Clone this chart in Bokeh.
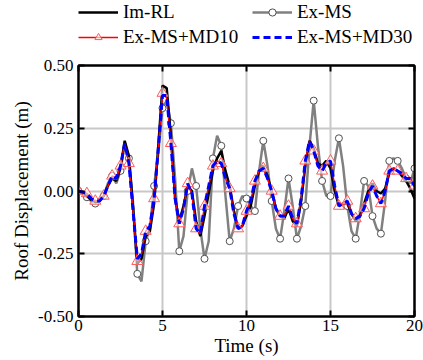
from bokeh.plotting import figure
from bokeh.layouts import column
from bokeh.models import (ColumnDataSource, FixedTicker, LinearAxis, Legend, LegendItem,
                          NumeralTickFormatter, Range1d)
from bokeh.embed import file_html
from bokeh.resources import INLINE

# ---- data (time step 0.25 s) ----
TIME = [i * 0.25 for i in range(81)]

IM_RL = [0.00, -0.01, -0.02, -0.035,
         -0.045, -0.04, -0.02, 0.02,
         0.05, 0.04, 0.09, 0.20,
         0.14, -0.07, -0.29, -0.27,
         -0.18, -0.16, -0.05, 0.18,
         0.42, 0.41, 0.22, -0.03,
         -0.12, -0.06, 0.02, 0.00,
         -0.12, -0.18, -0.10, -0.01,
         0.08, 0.13, 0.16, 0.08,
         0.02, -0.08, -0.15, -0.14,
         -0.10, -0.06, 0.02, 0.08,
         0.10, 0.06, 0.00, -0.07,
         -0.10, -0.11, -0.07, -0.12,
         -0.14, -0.04, 0.10, 0.20,
         0.17, 0.11, 0.10, 0.12,
         0.09, 0.00, -0.06, -0.05,
         -0.05, -0.09, -0.12, -0.10,
         -0.05, 0.00, 0.03, 0.00,
         -0.01, 0.01, 0.07, 0.09,
         0.08, 0.06, 0.04, 0.01,
         -0.03]

EX_MS = [0.00, -0.01, -0.025, -0.04,
         -0.05, -0.04, -0.02, 0.03,
         0.06, 0.03, 0.08, 0.19,
         0.13, -0.05, -0.33, -0.36,
         -0.20, -0.15, 0.02, 0.15,
         0.33, 0.36, 0.27, 0.05,
         -0.24, -0.18, 0.00, 0.09,
         0.02, -0.15, -0.27, -0.20,
         0.13, 0.22, 0.18, -0.02,
         -0.20, -0.15, -0.06, -0.02,
         -0.03, -0.06, -0.08, 0.08,
         0.20, 0.10, -0.04, -0.15,
         -0.19, -0.08, 0.05, -0.06,
         -0.19, -0.14, -0.06, 0.18,
         0.36, 0.18, 0.04, -0.02,
         -0.02, 0.12, 0.21, 0.10,
         -0.06, -0.16, -0.19, -0.09,
         0.04, 0.02, -0.10, -0.15,
         -0.17, -0.04, 0.12, 0.13,
         0.12, 0.09, 0.05, 0.03,
         0.09]

EX_MS_MD10 = [0.00, -0.005, -0.01, -0.03,
              -0.04, -0.04, -0.02, 0.02,
              0.06, 0.05, 0.10, 0.19,
              0.11, -0.08, -0.28, -0.25,
              -0.16, -0.14, -0.03, 0.17,
              0.39, 0.37, 0.19, -0.03,
              -0.13, -0.07, 0.03, -0.01,
              -0.15, -0.17, -0.06, 0.02,
              0.10, 0.12, 0.11, 0.05,
              0.01, -0.09, -0.15, -0.14,
              -0.08, -0.04, 0.04, 0.08,
              0.09, 0.05, 0.00, -0.07,
              -0.10, -0.10, -0.06, -0.11,
              -0.13, -0.03, 0.12, 0.20,
              0.16, 0.10, 0.08, 0.11,
              0.12, 0.02, -0.06, -0.05,
              -0.04, -0.09, -0.11, -0.10,
              -0.07, -0.01, 0.02, -0.02,
              -0.05, 0.00, 0.08, 0.09,
              0.08, 0.07, 0.05, 0.05,
              0.02]

EX_MS_MD30 = [0.00, -0.005, -0.01, -0.03,
              -0.04, -0.04, -0.02, 0.02,
              0.06, 0.05, 0.10, 0.19,
              0.11, -0.08, -0.27, -0.25,
              -0.16, -0.14, -0.03, 0.17,
              0.38, 0.38, 0.19, -0.03,
              -0.13, -0.07, 0.03, -0.01,
              -0.15, -0.17, -0.06, 0.02,
              0.10, 0.12, 0.11, 0.05,
              0.01, -0.09, -0.15, -0.14,
              -0.08, -0.04, 0.04, 0.08,
              0.09, 0.05, 0.00, -0.07,
              -0.10, -0.10, -0.06, -0.11,
              -0.13, -0.03, 0.12, 0.20,
              0.16, 0.10, 0.08, 0.11,
              0.12, 0.02, -0.06, -0.05,
              -0.04, -0.09, -0.11, -0.10,
              -0.07, -0.01, 0.02, -0.02,
              -0.05, 0.00, 0.08, 0.09,
              0.08, 0.07, 0.05, 0.05,
              0.02]

SERIES = ["Im-RL", "Ex-MS", "Ex-MS+MD10", "Ex-MS+MD30"]
X_TICKS = [0, 5, 10, 15, 20]
Y_TICKS = [-0.50, -0.25, 0.00, 0.25, 0.50]

FONT = "Liberation Serif"

# styles
GRAY_LINE = dict(line_color="#808080", line_width=2.5)
GRAY_MK = dict(marker="circle", size=7, fill_color="white", line_color="#505050", line_width=1)
BLACK_LINE = dict(line_color="black", line_width=2.5)
RED_LINE = dict(line_color="#FF0000", line_width=1.5)
RED_MK = dict(marker="triangle", size=11, fill_color="white", fill_alpha=0.6,
              line_color="#FF5A5A", line_width=1)
BLUE_LINE = dict(line_color="#0000FF", line_width=3, line_dash="7 4")

src = ColumnDataSource(dict(t=TIME, rl=IM_RL, ms=EX_MS, md10=EX_MS_MD10, md30=EX_MS_MD30))
mk = ColumnDataSource(dict(t=TIME[::2], ms=EX_MS[::2], md10=EX_MS_MD10[::2]))

# ---------------- main plot ----------------
p = figure(width=423, height=310, output_backend="svg", toolbar_location=None,
           x_range=Range1d(0, 20), y_range=Range1d(-0.5, 0.5),
           min_border_left=78, min_border_right=9, min_border_top=15, min_border_bottom=44)

p.outline_line_color = "black"
p.outline_line_width = 2

p.xgrid.ticker = FixedTicker(ticks=X_TICKS)
p.ygrid.ticker = FixedTicker(ticks=Y_TICKS)
for g in (p.xgrid, p.ygrid):
    g.grid_line_color = "#C8C8C8"
    g.grid_line_width = 2

p.line("t", "ms", source=src, **GRAY_LINE)
p.scatter("t", "ms", source=mk, **GRAY_MK)
p.line("t", "rl", source=src, **BLACK_LINE)
p.line("t", "md10", source=src, **RED_LINE)
p.scatter("t", "md10", source=mk, **RED_MK)
p.line("t", "md30", source=src, **BLUE_LINE)

for ax in (p.xaxis[0], p.yaxis[0]):
    ax.axis_line_width = 2
    ax.major_tick_line_width = 2
    ax.major_tick_in = 6
    ax.major_tick_out = 0
    ax.minor_tick_line_color = None
    ax.major_label_text_font = FONT
    ax.major_label_text_font_size = "17px"
    ax.major_label_text_color = "black"
    ax.axis_label_text_font = FONT
    ax.axis_label_text_font_size = "19px"
    ax.axis_label_text_font_style = "normal"
    ax.axis_label_text_color = "black"

p.xaxis[0].ticker = FixedTicker(ticks=X_TICKS)
p.yaxis[0].ticker = FixedTicker(ticks=Y_TICKS)
p.yaxis[0].formatter = NumeralTickFormatter(format="0.00")
p.xaxis[0].axis_label = "Time (s)"
p.yaxis[0].axis_label = "Roof Displacement (m)"
p.xaxis[0].major_label_standoff = 3
p.xaxis[0].axis_label_standoff = 1
p.yaxis[0].major_label_standoff = 5
p.yaxis[0].axis_label_standoff = 3

for side, ticks in (("above", X_TICKS), ("right", Y_TICKS)):
    ax = LinearAxis(ticker=FixedTicker(ticks=ticks))
    ax.major_label_text_font_size = "1px"
    ax.major_label_text_color = None
    ax.major_label_standoff = 0
    ax.axis_line_width = 2
    ax.major_tick_line_width = 2
    ax.major_tick_in = 6
    ax.major_tick_out = 0
    ax.minor_tick_line_color = None
    p.add_layout(ax, side)

# ---------------- legend strip ----------------
# proxies draw the same series, but the strip's y-range keeps them out of view
lg = figure(width=423, height=50, output_backend="svg", toolbar_location=None,
            x_axis_type=None, y_axis_type=None,
            min_border_left=78, min_border_right=9, min_border_top=0, min_border_bottom=0,
            x_range=Range1d(0, 20), y_range=Range1d(10, 11))
lg.outline_line_color = None
lg.xgrid.visible = False
lg.ygrid.visible = False
l_rl = lg.line("t", "rl", source=src, **BLACK_LINE)
l_ms = lg.line("t", "ms", source=src, **GRAY_LINE)
l_msm = lg.scatter("t", "ms", source=mk, **GRAY_MK)
l_md10 = lg.line("t", "md10", source=src, **RED_LINE)
l_md10m = lg.scatter("t", "md10", source=mk, **RED_MK)
l_md30 = lg.line("t", "md30", source=src, **BLUE_LINE)

legend = Legend(items=[
    LegendItem(label=SERIES[0], renderers=[l_rl]),
    LegendItem(label=SERIES[1], renderers=[l_ms, l_msm]),
    LegendItem(label=SERIES[2], renderers=[l_md10, l_md10m]),
    LegendItem(label=SERIES[3], renderers=[l_md30]),
], ncols=2, orientation="horizontal", location=(0, 2))
legend.label_text_font = FONT
legend.label_text_font_size = "19px"
legend.label_text_color = "black"
legend.glyph_width = 40
legend.glyph_height = 18
legend.label_height = 18
legend.label_width = 126
legend.label_standoff = 5
legend.spacing = 3
legend.padding = 0
legend.margin = 0
legend.border_line_color = None
legend.background_fill_alpha = 0
lg.add_layout(legend, "center")

layout = column(lg, p, spacing=0)
open("out.html", "w").write(file_html(layout, INLINE))
